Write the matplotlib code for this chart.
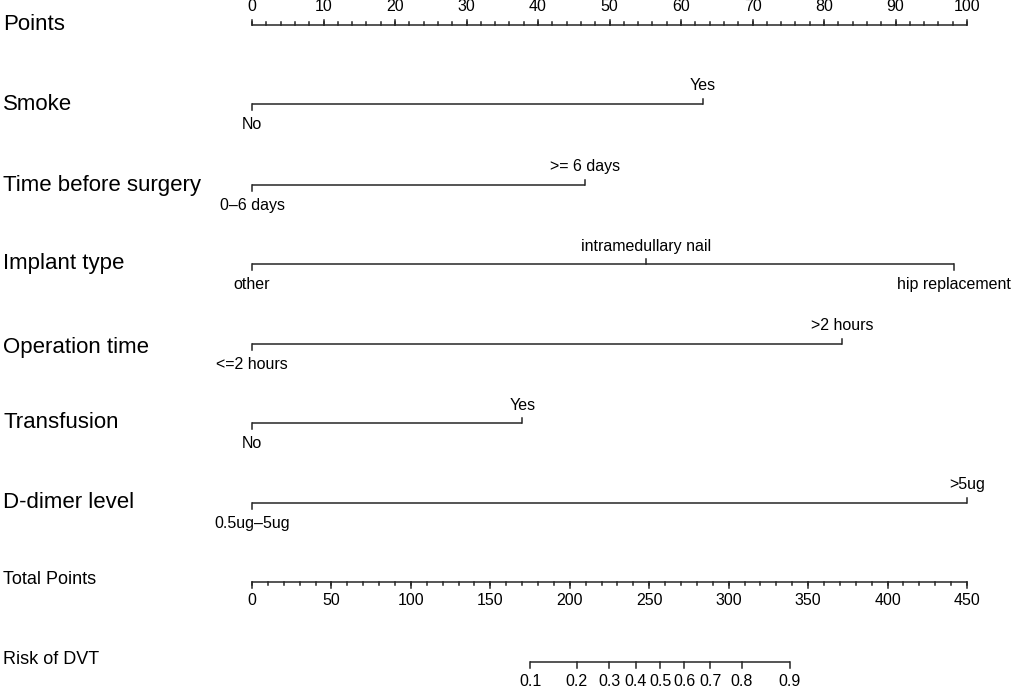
import numpy as np
import matplotlib
matplotlib.use('Agg')
import matplotlib.pyplot as plt
from matplotlib.transforms import blended_transform_factory

plt.rcParams['font.family'] = ['Liberation Sans', 'DejaVu Sans']

# nomogram data (points for each level)
points_ticks = np.arange(0, 101, 10)
points_minor = np.arange(0, 101, 2)

smoke_levels = ['No', 'Yes']
smoke_pts = [0, 63.1]

time_levels = ['0\u20136 days', '>= 6 days']
time_pts = [0, 46.6]

implant_levels = ['other', 'intramedullary nail', 'hip replacement']
implant_pts = [0, 55.1, 98.2]

optime_levels = ['<=2 hours', '>2 hours']
optime_pts = [0, 82.5]

transf_levels = ['No', 'Yes']
transf_pts = [0, 37.8]

ddimer_levels = ['0.5ug\u20135ug', '>5ug']
ddimer_pts = [0, 100]

total_ticks = np.arange(0, 451, 50)
total_minor = np.arange(0, 451, 10)
total_max = 450

risk_labels = ['0.1', '0.2', '0.3', '0.4', '0.5', '0.6', '0.7', '0.8', '0.9']
risk_total = [175.0, 204.5, 224.7, 241.7, 256.8, 271.9, 288.3, 308.4, 338.6]

W, H = 1013, 689
x0, x100 = 252, 967
ppu = (x100 - x0) / 100.0

fig = plt.figure(figsize=(W / 100, H / 100), dpi=100)
ax = fig.add_axes([0, 0, 1, 1])
ax.set_xlim(-x0 / ppu, (W - x0) / ppu)
ax.set_ylim(H, 0)
ax.axis('off')

lc = '#262626'
lw = 1.1
name_fs = 16
small_name_fs = 13
lab_fs = 11.5
trans_name = blended_transform_factory(ax.transAxes, ax.transData)


def name(txt, y, fs=name_fs):
    ax.text(3 / W, y, txt, transform=trans_name, fontsize=fs,
            va='center', ha='left', color='black')


def scale_axis(y, major, minor, scale, up, labels=None):
    # axis line with ticks, values mapped onto the points scale
    xs_major = np.asarray(major) * scale
    xs_minor = np.asarray(minor) * scale
    ax.plot([xs_major.min(), xs_major.max()], [y, y], color=lc, lw=lw, solid_capstyle='butt')
    d = -1 if up else 1
    for xm in xs_minor:
        ax.plot([xm, xm], [y, y + d * 3], color=lc, lw=lw)
    for xm in xs_major:
        ax.plot([xm, xm], [y, y + d * 5.5], color=lc, lw=lw)
    if labels is None:
        labels = [str(int(v)) for v in major]
    for xm, lb in zip(xs_major, labels):
        ax.text(xm, y + d * 18.5, lb, ha='center', va='center', fontsize=lab_fs, color='black')


def variable(y, levels, pts):
    ax.plot([min(pts), max(pts)], [y, y], color=lc, lw=lw, solid_capstyle='butt')
    for i, (lv, p) in enumerate(zip(levels, pts)):
        below = i % 2 == 0
        d = 1 if below else -1
        ax.plot([p, p], [y, y + d * 5.5], color=lc, lw=lw)
        ax.text(p, y + (20.5 if below else -18), lv, ha='center', va='center',
                fontsize=lab_fs, color='black')


# Points
name('Points', 25)
scale_axis(25, points_ticks, points_minor, 1.0, up=True)

rows = [
    ('Smoke', 104, smoke_levels, smoke_pts),
    ('Time before surgery', 185, time_levels, time_pts),
    ('Implant type', 264, implant_levels, implant_pts),
    ('Operation time', 344, optime_levels, optime_pts),
    ('Transfusion', 423, transf_levels, transf_pts),
    ('D-dimer level', 503, ddimer_levels, ddimer_pts),
]
for nm, y, lv, pts in rows:
    name(nm, y + 4 if nm == 'Operation time' else y)
    variable(y, lv, pts)

# Total points
name('Total Points', 580, small_name_fs)
scale_axis(582, total_ticks, total_minor, 100.0 / total_max, up=False)

# Risk
name('Risk of DVT', 660, small_name_fs)
rx = np.asarray(risk_total) * 100.0 / total_max
ax.plot([rx.min(), rx.max()], [662, 662], color=lc, lw=lw, solid_capstyle='butt')
for xm, lb in zip(rx, risk_labels):
    ax.plot([xm, xm], [662, 667.5], color=lc, lw=lw)
    ax.text(xm, 681, lb, ha='center', va='center', fontsize=lab_fs, color='black')

fig.savefig('out.png', dpi=100)
